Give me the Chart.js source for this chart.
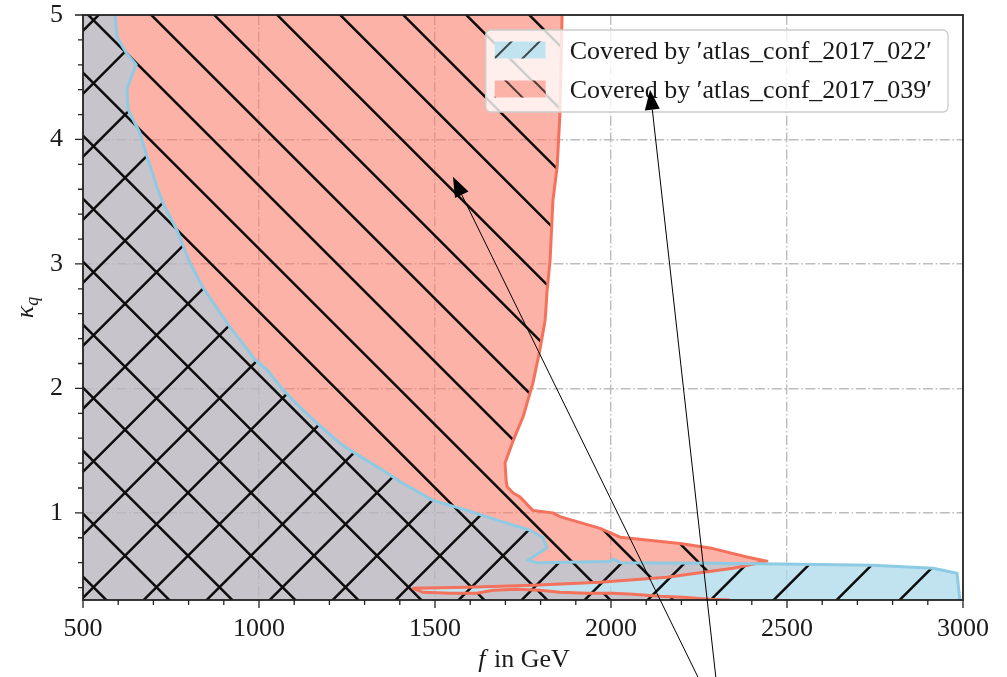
<!DOCTYPE html>
<html>
<head>
<meta charset="utf-8">
<script src="https://cdn.jsdelivr.net/npm/chart.js@4.4.1/dist/chart.umd.min.js"></script>
<style>
  html, body { margin: 0; padding: 0; background: #ffffff; overflow: hidden; }
  canvas { display: block; }
</style>
</head>
<body>
<canvas id="c" width="1007" height="677"></canvas>
<script>
// Axis ranges
const F_MIN = 500, F_MAX = 3000;
const K_MIN = 0.3, K_MAX = 5;

// Tick positions
const fMajor = [500, 1000, 1500, 2000, 2500, 3000];
const fMinor = [600, 700, 800, 900, 1100, 1200, 1300, 1400, 1600, 1700, 1800, 1900,
                2100, 2200, 2300, 2400, 2600, 2700, 2800, 2900];
const kMajor = [1, 2, 3, 4, 5];
const kMinor = [0.4, 0.6, 0.8, 1.2, 1.4, 1.6, 1.8, 2.2, 2.4, 2.6, 2.8,
                3.2, 3.4, 3.6, 3.8, 4.2, 4.4, 4.6, 4.8];

// Region covered by atlas_conf_2017_022 (closed outline, f in GeV / kappa_q)
const blueF = [500, 591, 597, 622, 651, 625, 628, 662, 682, 710, 727, 767, 804, 841, 889,
               918, 946, 989, 1023, 1068, 1116, 1173, 1230, 1267, 1364, 1401, 1494, 1591,
               1656, 1770, 1807, 1818, 1764, 1790, 1997, 2006, 2026, 2290, 2537, 2744,
               2915, 2983, 2991, 500];
const blueK = [5, 5, 4.82, 4.70, 4.60, 4.41, 4.24, 4.05, 3.86, 3.62, 3.49, 3.27, 3.01, 2.81,
               2.61, 2.49, 2.39, 2.23, 2.15, 1.99, 1.85, 1.70, 1.56, 1.49, 1.32, 1.25, 1.10,
               1.02, 0.96, 0.86, 0.80, 0.72, 0.62, 0.60, 0.61, 0.63, 0.60, 0.595, 0.587,
               0.579, 0.555, 0.515, 0.3, 0.3];

// Region covered by atlas_conf_2017_039 (closed outline, f in GeV / kappa_q)
const redF = [500, 1861, 1855, 1847, 1835, 1827, 1818, 1813, 1798, 1778, 1750, 1722, 1699,
              1702, 1705, 1722, 1741, 1778, 1835, 1855, 1969, 2026, 2196, 2290, 2386, 2443,
              2347, 2159, 1969, 1778, 1591, 1438, 1466, 1543, 1619, 1665, 1733, 1798, 1855,
              1932, 2006, 2063, 2139, 2205, 2281, 2338, 500];
const redK = [5, 5, 4.21, 3.78, 3.51, 3.03, 2.77, 2.55, 2.31, 2.04, 1.77, 1.58, 1.40,
              1.26, 1.21, 1.16, 1.13, 1.02, 1.00, 0.97, 0.875, 0.805, 0.754, 0.713, 0.645,
              0.612, 0.555, 0.482, 0.442, 0.418, 0.402, 0.394, 0.362, 0.354, 0.354, 0.378,
              0.386, 0.378, 0.362, 0.354, 0.354, 0.346, 0.330, 0.322, 0.306, 0.3, 0.3];

// Annotation arrows (tail -> head, data coordinates)
const arrowTailF = [2261, 2301];
const arrowTailK = [-0.4, -0.4];
const arrowHeadF = [1551, 2111];
const arrowHeadK = [3.70, 4.40];

const labelBlue = 'Covered by \u2032atlas_conf_2017_022\u2032';
const labelRed  = 'Covered by \u2032atlas_conf_2017_039\u2032';

const FONT = "'Liberation Serif', 'DejaVu Serif', serif";
const INK = '#1a1a1a';

const BLUE_EDGE = '#8ccbe3';
const RED_EDGE = '#f4725c';
const BLUE_FILL = 'rgba(172,218,235,0.75)';
const RED_FILL = 'rgba(250,127,108,0.6)';
const BOTH_FILL = 'rgba(186,181,191,0.8)';

const zip = (xs, ys) => xs.map((x, i) => ({ x: x, y: ys[i] }));

// Hide outline segments that run along the axes frame
function edgeColor(fs, ks, color) {
  return ctx => {
    const i = ctx.p0DataIndex, j = ctx.p1DataIndex;
    const alongF = fs[i] === fs[j] && (fs[i] === F_MIN || fs[i] === F_MAX);
    const alongK = ks[i] === ks[j] && (ks[i] === K_MIN || ks[i] === K_MAX);
    return (alongF || alongK) ? 'rgba(0,0,0,0)' : color;
  };
}

function addPoly(ctx, pts) {
  pts.forEach((p, i) => i ? ctx.lineTo(p.x, p.y) : ctx.moveTo(p.x, p.y));
  ctx.closePath();
}

// Parallel 45-degree hatch lines; dir 1 draws '\', dir -1 draws '/'
function hatch(ctx, box, dir, phase, period) {
  const t = box.top - 4, b = box.bottom + 4;
  ctx.beginPath();
  if (dir > 0) {
    const lo = box.left - b, hi = box.right - t;
    let c = phase + Math.floor((lo - phase) / period) * period;
    for (; c <= hi + period; c += period) { ctx.moveTo(c + t, t); ctx.lineTo(c + b, b); }
  } else {
    const lo = box.left + t, hi = box.right + b;
    let c = phase + Math.floor((lo - phase) / period) * period;
    for (; c <= hi + period; c += period) { ctx.moveTo(c - t, t); ctx.lineTo(c - b, b); }
  }
  ctx.stroke();
}

const regionPlugin = {
  id: 'regions',
  beforeDatasetsDraw(chart) {
    const ctx = chart.ctx, a = chart.chartArea;
    const B = chart.getDatasetMeta(0).data;
    const R = chart.getDatasetMeta(1).data;
    ctx.save();
    ctx.beginPath(); ctx.rect(a.left, a.top, a.width, a.height); ctx.clip();

    // blue only
    ctx.save();
    ctx.beginPath(); ctx.rect(0, 0, chart.width, chart.height); addPoly(ctx, R); ctx.clip('evenodd');
    ctx.beginPath(); addPoly(ctx, B); ctx.fillStyle = BLUE_FILL; ctx.fill();
    ctx.restore();
    // red only
    ctx.save();
    ctx.beginPath(); ctx.rect(0, 0, chart.width, chart.height); addPoly(ctx, B); ctx.clip('evenodd');
    ctx.beginPath(); addPoly(ctx, R); ctx.fillStyle = RED_FILL; ctx.fill();
    ctx.restore();
    // overlap
    ctx.save();
    ctx.beginPath(); addPoly(ctx, R); ctx.clip();
    ctx.beginPath(); addPoly(ctx, B); ctx.fillStyle = BOTH_FILL; ctx.fill();
    ctx.restore();

    ctx.strokeStyle = '#0d0d0d';
    ctx.lineWidth = 2.5;
    ctx.save();
    ctx.beginPath(); addPoly(ctx, R); ctx.clip();
    hatch(ctx, a, 1, 10.3, 63);
    ctx.restore();
    ctx.save();
    ctx.beginPath(); addPoly(ctx, B); ctx.clip();
    hatch(ctx, a, -1, 50.7, 63);
    ctx.restore();

    ctx.restore();
  },
  afterDatasetsDraw(chart) {
    const ctx = chart.ctx, a = chart.chartArea;
    const xs = chart.scales.x, ys = chart.scales.y;
    ctx.save();
    ctx.strokeStyle = '#222222';
    ctx.lineWidth = 1.3;
    ctx.beginPath();
    fMajor.forEach(v => { const p = xs.getPixelForValue(v); ctx.moveTo(p, a.bottom); ctx.lineTo(p, a.bottom + 8); });
    fMinor.forEach(v => { const p = xs.getPixelForValue(v); ctx.moveTo(p, a.bottom); ctx.lineTo(p, a.bottom + 5); });
    kMajor.forEach(v => { const p = ys.getPixelForValue(v); ctx.moveTo(a.left - 8, p); ctx.lineTo(a.left, p); });
    kMinor.forEach(v => { const p = ys.getPixelForValue(v); ctx.moveTo(a.left - 5, p); ctx.lineTo(a.left, p); });
    ctx.stroke();
    ctx.lineWidth = 1.8;
    ctx.strokeRect(a.left, a.top, a.width, a.height);
    ctx.restore();
  },
  afterDraw(chart) {
    const ctx = chart.ctx, a = chart.chartArea;
    const xs = chart.scales.x, ys = chart.scales.y;
    ctx.save();

    // axis titles
    ctx.fillStyle = INK;
    ctx.textBaseline = 'alphabetic';
    ctx.font = 'italic 26px ' + FONT;
    const wf = ctx.measureText('f').width;
    ctx.font = '26px ' + FONT;
    const wr = ctx.measureText(' in GeV').width;
    const cx = (a.left + a.right) / 2;
    let x0 = cx - (wf + wr) / 2;
    ctx.font = 'italic 26px ' + FONT;
    ctx.fillText('f', x0, 667);
    ctx.font = '26px ' + FONT;
    ctx.fillText(' in GeV', x0 + wf + 2, 667);

    ctx.save();
    ctx.translate(33, (a.top + a.bottom) / 2);
    ctx.rotate(-Math.PI / 2);
    ctx.font = 'italic 26px ' + FONT;
    const wk = ctx.measureText('\u03ba').width;
    ctx.font = 'italic 18px ' + FONT;
    const wq = ctx.measureText('q').width;
    const k0 = -(wk + wq) / 2;
    ctx.font = 'italic 26px ' + FONT;
    ctx.fillText('\u03ba', k0, 0);
    ctx.font = 'italic 18px ' + FONT;
    ctx.fillText('q', k0 + wk, 5);
    ctx.restore();

    // legend
    const labels = chart.data.datasets.map(d => d.label);
    ctx.font = '26px ' + FONT;
    const tw = Math.max(...labels.map(t => ctx.measureText(t).width));
    const lw = 84 + tw + 16, lh = 82;
    const lx = a.right - 15 - lw, ly = a.top + 15;
    ctx.beginPath();
    ctx.roundRect(lx, ly, lw, lh, 5);
    ctx.fillStyle = 'rgba(255,255,255,0.8)';
    ctx.fill();
    ctx.strokeStyle = '#cccccc';
    ctx.lineWidth = 1.3;
    ctx.stroke();

    const rows = [
      { fill: BLUE_FILL, dir: -1, phase: 21 },
      { fill: RED_FILL, dir: 1, phase: 5 }
    ];
    rows.forEach((r, i) => {
      const cy = ly + 20 + i * 39;
      const box = { left: lx + 9, top: cy - 8.5, right: lx + 60, bottom: cy + 8.5 };
      ctx.save();
      ctx.beginPath();
      ctx.rect(box.left, box.top, box.right - box.left, box.bottom - box.top);
      ctx.fillStyle = '#ffffff';
      ctx.fill();
      ctx.fillStyle = r.fill;
      ctx.fill();
      ctx.clip();
      ctx.strokeStyle = 'rgba(20,20,20,0.75)';
      ctx.lineWidth = 2;
      hatch(ctx, box, r.dir, r.phase, 28);
      ctx.restore();
      ctx.fillStyle = INK;
      ctx.font = '26px ' + FONT;
      ctx.fillText(labels[i], lx + 84, cy + 9);
    });

    // arrows
    ctx.strokeStyle = '#000000';
    ctx.fillStyle = '#000000';
    ctx.lineWidth = 1;
    arrowHeadF.forEach((hf, i) => {
      const hx = xs.getPixelForValue(hf), hy = ys.getPixelForValue(arrowHeadK[i]);
      const tx = xs.getPixelForValue(arrowTailF[i]), ty = ys.getPixelForValue(arrowTailK[i]);
      const ang = Math.atan2(hy - ty, hx - tx);
      const L = 20, W = 7.5;
      const bx = hx - L * Math.cos(ang), by = hy - L * Math.sin(ang);
      ctx.beginPath(); ctx.moveTo(tx, ty); ctx.lineTo(bx, by); ctx.stroke();
      ctx.beginPath();
      ctx.moveTo(hx, hy);
      ctx.lineTo(bx + W * Math.sin(ang), by - W * Math.cos(ang));
      ctx.lineTo(bx - W * Math.sin(ang), by + W * Math.cos(ang));
      ctx.closePath();
      ctx.fill();
    });
    ctx.restore();
  }
};

const gridColor = (edges) => ctx => (ctx.tick && edges.includes(ctx.tick.value)) ? 'rgba(0,0,0,0)' : '#bcbcbc';
const DASH = [10, 2.6, 1.6, 2.6];

// keep the plot frame fixed: no extra room for edge tick labels
function noEdgePadding(s) {
  s.paddingTop = 0; s.paddingBottom = 0; s.paddingLeft = 0; s.paddingRight = 0;
}

new Chart(document.getElementById('c'), {
  type: 'scatter',
  data: {
    datasets: [
      {
        label: labelBlue,
        data: zip(blueF, blueK),
        showLine: true,
        fill: false,
        borderColor: BLUE_EDGE,
        backgroundColor: BLUE_FILL,
        borderWidth: 3,
        borderJoinStyle: 'round',
        pointRadius: 0,
        pointHoverRadius: 0,
        tension: 0,
        segment: { borderColor: edgeColor(blueF, blueK, BLUE_EDGE) }
      },
      {
        label: labelRed,
        data: zip(redF, redK),
        showLine: true,
        fill: false,
        borderColor: RED_EDGE,
        backgroundColor: RED_FILL,
        borderWidth: 3,
        borderJoinStyle: 'round',
        pointRadius: 0,
        pointHoverRadius: 0,
        tension: 0,
        segment: { borderColor: edgeColor(redF, redK, RED_EDGE) }
      }
    ]
  },
  options: {
    responsive: false,
    devicePixelRatio: 1,
    animation: false,
    events: [],
    layout: { padding: { left: 0, right: 44, top: 15, bottom: 0 } },
    plugins: { legend: { display: false }, tooltip: { enabled: false }, title: { display: false } },
    scales: {
      x: {
        type: 'linear',
        min: F_MIN, max: F_MAX,
        afterBuildTicks: s => { s.ticks = fMajor.map(v => ({ value: v })); },
        afterFit: s => { s.height = 77; noEdgePadding(s); },
        ticks: {
          font: { family: FONT, size: 26, lineHeight: 1 },
          color: INK, padding: 16, maxRotation: 0, autoSkip: false,
          callback: v => String(v)
        },
        grid: { color: gridColor([F_MIN, F_MAX]), lineWidth: 1.4, drawTicks: false },
        border: { display: false, dash: DASH }
      },
      y: {
        type: 'linear',
        min: K_MIN, max: K_MAX,
        afterBuildTicks: s => { s.ticks = kMajor.map(v => ({ value: v })); },
        afterFit: s => { s.width = 83; noEdgePadding(s); },
        ticks: {
          font: { family: FONT, size: 26, lineHeight: 1 },
          color: INK, padding: 20, autoSkip: false,
          callback: v => String(v)
        },
        grid: { color: gridColor([K_MAX]), lineWidth: 1.4, drawTicks: false },
        border: { display: false, dash: DASH }
      }
    }
  },
  plugins: [regionPlugin]
});
</script>
</body>
</html>
